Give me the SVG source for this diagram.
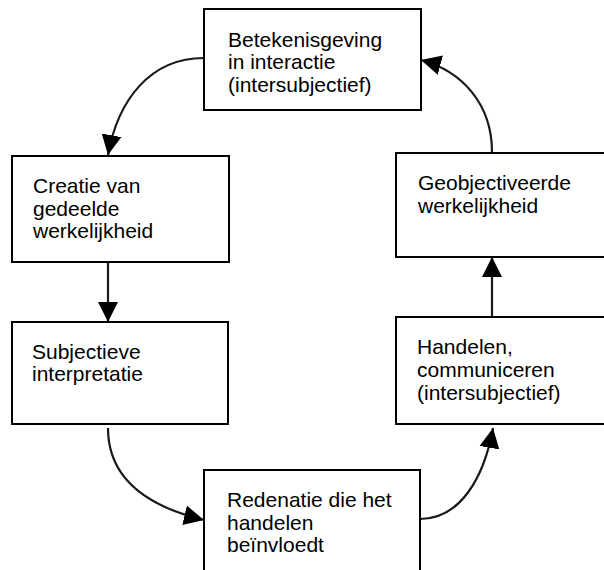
<svg xmlns="http://www.w3.org/2000/svg" width="604" height="570" viewBox="0 0 604 570">
  <style>
    .box { fill: #ffffff; stroke: #000000; stroke-width: 2; }
    .lbl { font-family: "Liberation Sans", Arial, sans-serif; font-size: 21px; fill: #000000; }
    .link { fill: none; stroke: #1a1a1a; stroke-width: 2.2; }
  </style>
  <defs>
    <marker id="head" viewBox="0 0 20 20" refX="20" refY="10" markerWidth="20" markerHeight="21" markerUnits="userSpaceOnUse" orient="auto">
      <path d="M0,0 L20,10 L0,20 Z" fill="#000000"/>
    </marker>
  </defs>

  <rect width="604" height="570" fill="#ffffff"/>

  <g id="connectors">
    <!-- Betekenisgeving -> Creatie -->
    <path class="link" d="M204,58 C150,58 118,100 108,155" marker-end="url(#head)"/>
    <!-- Creatie -> Subjectieve -->
    <path class="link" d="M108,262 L108,322" marker-end="url(#head)"/>
    <!-- Subjectieve -> Redenatie -->
    <path class="link" d="M108,428 C108,480 150,507 204,520" marker-end="url(#head)"/>
    <!-- Redenatie -> Handelen -->
    <path class="link" d="M420,519 C460,519 484,478 493,428" marker-end="url(#head)"/>
    <!-- Handelen -> Geobjectiveerde -->
    <path class="link" d="M492,317 L492,257" marker-end="url(#head)"/>
    <!-- Geobjectiveerde -> Betekenisgeving -->
    <path class="link" d="M492,152 C492,104 462,71 421,60" marker-end="url(#head)"/>
  </g>

  <g id="betekenisgeving">
    <rect class="box" x="204" y="9" width="217" height="101"/>
    <text class="lbl" x="228" y="46.5">Betekenisgeving</text>
    <text class="lbl" x="228" y="69.3">in interactie</text>
    <text class="lbl" x="228" y="92">(intersubjectief)</text>
  </g>

  <g id="creatie">
    <rect class="box" x="12" y="156" width="217" height="106"/>
    <text class="lbl" x="33" y="192.7">Creatie van</text>
    <text class="lbl" x="33" y="215.5">gedeelde</text>
    <text class="lbl" x="33" y="238.3">werkelijkheid</text>
  </g>

  <g id="subjectieve">
    <rect class="box" x="12" y="322" width="216" height="102"/>
    <text class="lbl" x="32" y="358.5">Subjectieve</text>
    <text class="lbl" x="32" y="381.3">interpretatie</text>
  </g>

  <g id="redenatie">
    <rect class="box" x="204" y="470" width="216" height="106"/>
    <text class="lbl" x="227" y="506.7">Redenatie die het</text>
    <text class="lbl" x="227" y="529.5">handelen</text>
    <text class="lbl" x="227" y="552.3">beïnvloedt</text>
  </g>

  <g id="handelen">
    <rect class="box" x="396" y="317" width="217" height="107"/>
    <text class="lbl" x="417" y="354">Handelen,</text>
    <text class="lbl" x="417" y="376.8">communiceren</text>
    <text class="lbl" x="417" y="399.6">(intersubjectief)</text>
  </g>

  <g id="geobjectiveerde">
    <rect class="box" x="396" y="153" width="217" height="104"/>
    <text class="lbl" x="418" y="190">Geobjectiveerde</text>
    <text class="lbl" x="418" y="212.8">werkelijkheid</text>
  </g>
</svg>
